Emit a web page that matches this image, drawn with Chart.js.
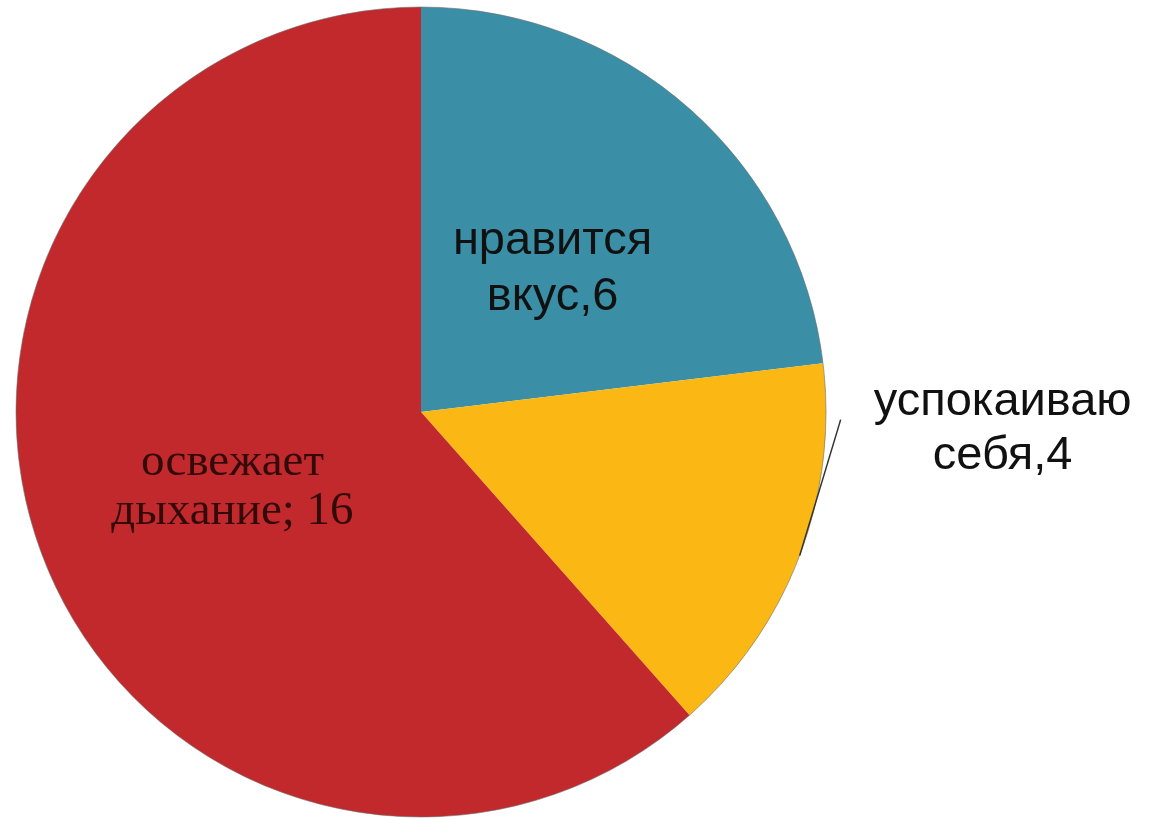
<!DOCTYPE html>
<html>
<head>
<meta charset="utf-8">
<script src="https://cdn.jsdelivr.net/npm/chart.js@4.4.1/dist/chart.umd.min.js"></script>
<style>
  html, body { margin: 0; padding: 0; background: #fff; }
  canvas { display: block; }
</style>
</head>
<body>
<canvas id="pieChart" width="1149" height="819"></canvas>
<script>
// Data
const labels = [['нравится', 'вкус,6'], ['успокаиваю', 'себя,4'], ['освежает', 'дыхание; 16']];
const values = [6, 4, 16];
const colors = ['#3A8FA7', '#FBB713', '#C1292C'];

// Draw the slice labels and the leader line, placed from each arc's geometry
const sliceLabels = {
  id: 'sliceLabels',
  afterDatasetsDraw(chart) {
    const ctx = chart.ctx;
    const arcs = chart.getDatasetMeta(0).data;

    // thin outline round the pie
    const a0 = arcs[0];
    ctx.save();
    ctx.beginPath();
    ctx.arc(a0.x, a0.y, a0.outerRadius, 0, Math.PI * 2);
    ctx.strokeStyle = 'rgba(110,110,110,0.6)';
    ctx.lineWidth = 1;
    ctx.stroke();
    ctx.restore();

    arcs.forEach((arc, i) => {
      const mid = (arc.startAngle + arc.endAngle) / 2;
      const r = arc.outerRadius;
      ctx.save();
      ctx.textAlign = 'center';
      ctx.textBaseline = 'middle';
      if (i === 1) {
        // outside label with leader line
        const ex = arc.x + Math.cos(mid) * r;
        const ey = arc.y + Math.sin(mid) * r;
        const lx = ex + 41;
        const ly = ey - 136;
        ctx.beginPath();
        ctx.moveTo(ex, ey);
        ctx.lineTo(lx, ly);
        ctx.strokeStyle = '#333';
        ctx.lineWidth = 1.5;
        ctx.stroke();
        ctx.font = '47px "Liberation Sans", Arial, sans-serif';
        ctx.fillStyle = '#111';
        ctx.fillText(labels[i][0], lx + 162, ly - 18);
        ctx.fillText(labels[i][1], lx + 162, ly + 36);
      } else {
        const cx = arc.x + Math.cos(mid) * r * 0.49;
        const cy = arc.y + Math.sin(mid) * r * 0.49;
        if (i === 0) {
          ctx.font = '47px "Liberation Sans", Arial, sans-serif';
          ctx.fillStyle = '#111';
          ctx.fillText(labels[i][0], cx, cy - 22);
          ctx.fillText(labels[i][1], cx, cy + 34);
        } else {
          ctx.font = '47px "Liberation Serif", "Times New Roman", serif';
          ctx.fillStyle = '#330a0a';
          ctx.fillText(labels[i][0], cx - 3, cy - 20);
          ctx.fillText(labels[i][1], cx - 3, cy + 29);
        }
      }
      ctx.restore();
    });
  }
};

new Chart(document.getElementById('pieChart').getContext('2d'), {
  type: 'pie',
  data: {
    labels: labels.map(l => l.join(' ')),
    datasets: [{
      data: values,
      backgroundColor: colors,
      borderWidth: 0,
    }],
  },
  options: {
    responsive: false,
    animation: false,
    layout: { padding: { left: 16, right: 323, top: 7, bottom: 2 } },
    plugins: {
      legend: { display: false },
      tooltip: { enabled: false },
    },
  },
  plugins: [sliceLabels],
});
</script>
</body>
</html>
